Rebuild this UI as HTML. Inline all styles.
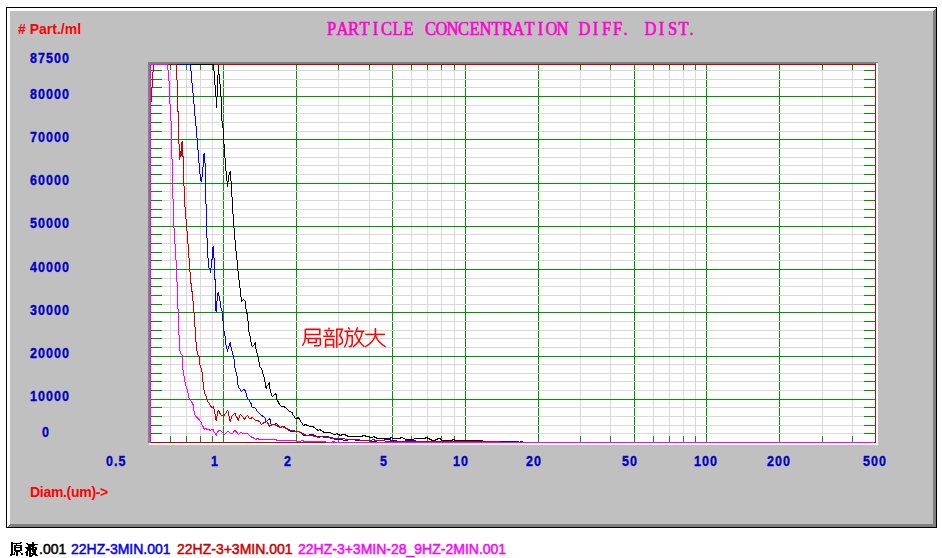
<!DOCTYPE html>
<html><head><meta charset="utf-8"><style>
html,body{margin:0;padding:0;background:#fff;}
body{width:942px;height:558px;position:relative;overflow:hidden;}
</style></head><body>
<svg width="942" height="558" viewBox="0 0 942 558" style="position:absolute;left:0;top:0">
<g shape-rendering="crispEdges">
<rect x="6" y="7" width="931" height="521" fill="#000"/>
<rect x="10" y="11" width="923" height="513" fill="#c0c0c0"/>
<rect x="7" y="8" width="929" height="1" fill="#fff"/>
<rect x="7" y="8" width="1" height="519" fill="#fff"/>
<rect x="935" y="9" width="1" height="518" fill="#808080"/>
<rect x="8" y="526" width="928" height="1" fill="#808080"/>
<rect x="7" y="9" width="928" height="1" fill="#fff"/>
<rect x="8" y="8" width="1" height="518" fill="#fff"/>
<rect x="934" y="10" width="1" height="517" fill="#808080"/>
<rect x="9" y="525" width="927" height="1" fill="#808080"/>
<rect x="7" y="10" width="927" height="1" fill="#fff"/>
<rect x="9" y="8" width="1" height="517" fill="#fff"/>
<rect x="933" y="11" width="1" height="516" fill="#808080"/>
<rect x="10" y="524" width="926" height="1" fill="#808080"/>
<rect x="148" y="62" width="730" height="1" fill="#808080"/>
<rect x="148" y="63" width="728" height="1" fill="#808080"/>
<rect x="148" y="64" width="2" height="379" fill="#808080"/>
<rect x="876" y="63" width="2" height="382" fill="#fff"/>
<rect x="149" y="443" width="729" height="2" fill="#fff"/>
<rect x="150" y="64" width="726" height="379" fill="#fff"/>
<rect x="223" y="65" width="1" height="377" fill="#009600"/>
<rect x="296" y="65" width="1" height="377" fill="#009600"/>
<rect x="392" y="65" width="1" height="377" fill="#009600"/>
<rect x="465" y="65" width="1" height="377" fill="#009600"/>
<rect x="538" y="65" width="1" height="377" fill="#009600"/>
<rect x="634" y="65" width="1" height="377" fill="#009600"/>
<rect x="706" y="65" width="1" height="377" fill="#009600"/>
<rect x="779" y="65" width="1" height="377" fill="#009600"/>
<rect x="170" y="65" width="1" height="377" fill="#d8d8d8"/>
<rect x="170" y="65" width="1" height="5" fill="#009600"/>
<rect x="170" y="436" width="1" height="6" fill="#009600"/>
<rect x="186" y="65" width="1" height="377" fill="#d8d8d8"/>
<rect x="186" y="65" width="1" height="5" fill="#009600"/>
<rect x="186" y="436" width="1" height="6" fill="#009600"/>
<rect x="200" y="65" width="1" height="377" fill="#d8d8d8"/>
<rect x="200" y="65" width="1" height="5" fill="#009600"/>
<rect x="200" y="436" width="1" height="6" fill="#009600"/>
<rect x="212" y="65" width="1" height="377" fill="#d8d8d8"/>
<rect x="212" y="65" width="1" height="5" fill="#009600"/>
<rect x="212" y="436" width="1" height="6" fill="#009600"/>
<rect x="338" y="65" width="1" height="377" fill="#d8d8d8"/>
<rect x="338" y="65" width="1" height="5" fill="#009600"/>
<rect x="338" y="436" width="1" height="6" fill="#009600"/>
<rect x="369" y="65" width="1" height="377" fill="#d8d8d8"/>
<rect x="369" y="65" width="1" height="5" fill="#009600"/>
<rect x="369" y="436" width="1" height="6" fill="#009600"/>
<rect x="411" y="65" width="1" height="377" fill="#d8d8d8"/>
<rect x="411" y="65" width="1" height="5" fill="#009600"/>
<rect x="411" y="436" width="1" height="6" fill="#009600"/>
<rect x="427" y="65" width="1" height="377" fill="#d8d8d8"/>
<rect x="427" y="65" width="1" height="5" fill="#009600"/>
<rect x="427" y="436" width="1" height="6" fill="#009600"/>
<rect x="441" y="65" width="1" height="377" fill="#d8d8d8"/>
<rect x="441" y="65" width="1" height="5" fill="#009600"/>
<rect x="441" y="436" width="1" height="6" fill="#009600"/>
<rect x="454" y="65" width="1" height="377" fill="#d8d8d8"/>
<rect x="454" y="65" width="1" height="5" fill="#009600"/>
<rect x="454" y="436" width="1" height="6" fill="#009600"/>
<rect x="580" y="65" width="1" height="377" fill="#d8d8d8"/>
<rect x="580" y="65" width="1" height="5" fill="#009600"/>
<rect x="580" y="436" width="1" height="6" fill="#009600"/>
<rect x="610" y="65" width="1" height="377" fill="#d8d8d8"/>
<rect x="610" y="65" width="1" height="5" fill="#009600"/>
<rect x="610" y="436" width="1" height="6" fill="#009600"/>
<rect x="653" y="65" width="1" height="377" fill="#d8d8d8"/>
<rect x="653" y="65" width="1" height="5" fill="#009600"/>
<rect x="653" y="436" width="1" height="6" fill="#009600"/>
<rect x="669" y="65" width="1" height="377" fill="#d8d8d8"/>
<rect x="669" y="65" width="1" height="5" fill="#009600"/>
<rect x="669" y="436" width="1" height="6" fill="#009600"/>
<rect x="683" y="65" width="1" height="377" fill="#d8d8d8"/>
<rect x="683" y="65" width="1" height="5" fill="#009600"/>
<rect x="683" y="436" width="1" height="6" fill="#009600"/>
<rect x="695" y="65" width="1" height="377" fill="#d8d8d8"/>
<rect x="695" y="65" width="1" height="5" fill="#009600"/>
<rect x="695" y="436" width="1" height="6" fill="#009600"/>
<rect x="822" y="65" width="1" height="377" fill="#d8d8d8"/>
<rect x="822" y="65" width="1" height="5" fill="#009600"/>
<rect x="822" y="436" width="1" height="6" fill="#009600"/>
<rect x="852" y="65" width="1" height="377" fill="#d8d8d8"/>
<rect x="852" y="65" width="1" height="5" fill="#009600"/>
<rect x="852" y="436" width="1" height="6" fill="#009600"/>
<rect x="151" y="433" width="724" height="1" fill="#d8d8d8"/>
<rect x="151" y="433" width="11" height="1" fill="#009600"/>
<rect x="864" y="433" width="11" height="1" fill="#009600"/>
<rect x="151" y="425" width="724" height="1" fill="#d8d8d8"/>
<rect x="151" y="425" width="11" height="1" fill="#009600"/>
<rect x="864" y="425" width="11" height="1" fill="#009600"/>
<rect x="151" y="416" width="724" height="1" fill="#d8d8d8"/>
<rect x="151" y="416" width="11" height="1" fill="#009600"/>
<rect x="864" y="416" width="11" height="1" fill="#009600"/>
<rect x="151" y="407" width="724" height="1" fill="#d8d8d8"/>
<rect x="151" y="407" width="11" height="1" fill="#009600"/>
<rect x="864" y="407" width="11" height="1" fill="#009600"/>
<rect x="151" y="390" width="724" height="1" fill="#d8d8d8"/>
<rect x="151" y="390" width="11" height="1" fill="#009600"/>
<rect x="864" y="390" width="11" height="1" fill="#009600"/>
<rect x="151" y="381" width="724" height="1" fill="#d8d8d8"/>
<rect x="151" y="381" width="11" height="1" fill="#009600"/>
<rect x="864" y="381" width="11" height="1" fill="#009600"/>
<rect x="151" y="373" width="724" height="1" fill="#d8d8d8"/>
<rect x="151" y="373" width="11" height="1" fill="#009600"/>
<rect x="864" y="373" width="11" height="1" fill="#009600"/>
<rect x="151" y="364" width="724" height="1" fill="#d8d8d8"/>
<rect x="151" y="364" width="11" height="1" fill="#009600"/>
<rect x="864" y="364" width="11" height="1" fill="#009600"/>
<rect x="151" y="347" width="724" height="1" fill="#d8d8d8"/>
<rect x="151" y="347" width="11" height="1" fill="#009600"/>
<rect x="864" y="347" width="11" height="1" fill="#009600"/>
<rect x="151" y="338" width="724" height="1" fill="#d8d8d8"/>
<rect x="151" y="338" width="11" height="1" fill="#009600"/>
<rect x="864" y="338" width="11" height="1" fill="#009600"/>
<rect x="151" y="330" width="724" height="1" fill="#d8d8d8"/>
<rect x="151" y="330" width="11" height="1" fill="#009600"/>
<rect x="864" y="330" width="11" height="1" fill="#009600"/>
<rect x="151" y="321" width="724" height="1" fill="#d8d8d8"/>
<rect x="151" y="321" width="11" height="1" fill="#009600"/>
<rect x="864" y="321" width="11" height="1" fill="#009600"/>
<rect x="151" y="304" width="724" height="1" fill="#d8d8d8"/>
<rect x="151" y="304" width="11" height="1" fill="#009600"/>
<rect x="864" y="304" width="11" height="1" fill="#009600"/>
<rect x="151" y="295" width="724" height="1" fill="#d8d8d8"/>
<rect x="151" y="295" width="11" height="1" fill="#009600"/>
<rect x="864" y="295" width="11" height="1" fill="#009600"/>
<rect x="151" y="286" width="724" height="1" fill="#d8d8d8"/>
<rect x="151" y="286" width="11" height="1" fill="#009600"/>
<rect x="864" y="286" width="11" height="1" fill="#009600"/>
<rect x="151" y="278" width="724" height="1" fill="#d8d8d8"/>
<rect x="151" y="278" width="11" height="1" fill="#009600"/>
<rect x="864" y="278" width="11" height="1" fill="#009600"/>
<rect x="151" y="260" width="724" height="1" fill="#d8d8d8"/>
<rect x="151" y="260" width="11" height="1" fill="#009600"/>
<rect x="864" y="260" width="11" height="1" fill="#009600"/>
<rect x="151" y="252" width="724" height="1" fill="#d8d8d8"/>
<rect x="151" y="252" width="11" height="1" fill="#009600"/>
<rect x="864" y="252" width="11" height="1" fill="#009600"/>
<rect x="151" y="243" width="724" height="1" fill="#d8d8d8"/>
<rect x="151" y="243" width="11" height="1" fill="#009600"/>
<rect x="864" y="243" width="11" height="1" fill="#009600"/>
<rect x="151" y="234" width="724" height="1" fill="#d8d8d8"/>
<rect x="151" y="234" width="11" height="1" fill="#009600"/>
<rect x="864" y="234" width="11" height="1" fill="#009600"/>
<rect x="151" y="217" width="724" height="1" fill="#d8d8d8"/>
<rect x="151" y="217" width="11" height="1" fill="#009600"/>
<rect x="864" y="217" width="11" height="1" fill="#009600"/>
<rect x="151" y="209" width="724" height="1" fill="#d8d8d8"/>
<rect x="151" y="209" width="11" height="1" fill="#009600"/>
<rect x="864" y="209" width="11" height="1" fill="#009600"/>
<rect x="151" y="200" width="724" height="1" fill="#d8d8d8"/>
<rect x="151" y="200" width="11" height="1" fill="#009600"/>
<rect x="864" y="200" width="11" height="1" fill="#009600"/>
<rect x="151" y="191" width="724" height="1" fill="#d8d8d8"/>
<rect x="151" y="191" width="11" height="1" fill="#009600"/>
<rect x="864" y="191" width="11" height="1" fill="#009600"/>
<rect x="151" y="174" width="724" height="1" fill="#d8d8d8"/>
<rect x="151" y="174" width="11" height="1" fill="#009600"/>
<rect x="864" y="174" width="11" height="1" fill="#009600"/>
<rect x="151" y="165" width="724" height="1" fill="#d8d8d8"/>
<rect x="151" y="165" width="11" height="1" fill="#009600"/>
<rect x="864" y="165" width="11" height="1" fill="#009600"/>
<rect x="151" y="157" width="724" height="1" fill="#d8d8d8"/>
<rect x="151" y="157" width="11" height="1" fill="#009600"/>
<rect x="864" y="157" width="11" height="1" fill="#009600"/>
<rect x="151" y="148" width="724" height="1" fill="#d8d8d8"/>
<rect x="151" y="148" width="11" height="1" fill="#009600"/>
<rect x="864" y="148" width="11" height="1" fill="#009600"/>
<rect x="151" y="131" width="724" height="1" fill="#d8d8d8"/>
<rect x="151" y="131" width="11" height="1" fill="#009600"/>
<rect x="864" y="131" width="11" height="1" fill="#009600"/>
<rect x="151" y="122" width="724" height="1" fill="#d8d8d8"/>
<rect x="151" y="122" width="11" height="1" fill="#009600"/>
<rect x="864" y="122" width="11" height="1" fill="#009600"/>
<rect x="151" y="113" width="724" height="1" fill="#d8d8d8"/>
<rect x="151" y="113" width="11" height="1" fill="#009600"/>
<rect x="864" y="113" width="11" height="1" fill="#009600"/>
<rect x="151" y="105" width="724" height="1" fill="#d8d8d8"/>
<rect x="151" y="105" width="11" height="1" fill="#009600"/>
<rect x="864" y="105" width="11" height="1" fill="#009600"/>
<rect x="151" y="87" width="724" height="1" fill="#d8d8d8"/>
<rect x="151" y="87" width="11" height="1" fill="#009600"/>
<rect x="864" y="87" width="11" height="1" fill="#009600"/>
<rect x="151" y="79" width="724" height="1" fill="#d8d8d8"/>
<rect x="151" y="79" width="11" height="1" fill="#009600"/>
<rect x="864" y="79" width="11" height="1" fill="#009600"/>
<rect x="151" y="70" width="724" height="1" fill="#d8d8d8"/>
<rect x="151" y="70" width="11" height="1" fill="#009600"/>
<rect x="864" y="70" width="11" height="1" fill="#009600"/>
<rect x="151" y="399" width="724" height="1" fill="#009600"/>
<rect x="151" y="356" width="724" height="1" fill="#009600"/>
<rect x="151" y="312" width="724" height="1" fill="#009600"/>
<rect x="151" y="269" width="724" height="1" fill="#009600"/>
<rect x="151" y="226" width="724" height="1" fill="#009600"/>
<rect x="151" y="183" width="724" height="1" fill="#009600"/>
<rect x="151" y="139" width="724" height="1" fill="#009600"/>
<rect x="151" y="96" width="724" height="1" fill="#009600"/>
<rect x="150" y="64" width="726" height="1" fill="#cc0000"/>
<rect x="150" y="442" width="726" height="1" fill="#cc0000"/>
<rect x="875" y="64" width="1" height="379" fill="#cc0000"/>
<rect x="150" y="64" width="1" height="379" fill="#ff00ff"/>
</g>
<g shape-rendering="crispEdges" stroke-linejoin="miter" stroke-linecap="square">
<polyline points="150.5,64.5 213.5,64.5 213.5,70.5 214.5,71.5 214.5,75.5 214.5,84.5 215.5,85.5 215.5,87.5 215.5,96.5 216.5,97.5 216.5,107.5 216.5,97.5 217.5,96.5 217.5,75.5 218.5,74.5 218.5,64.5 218.5,71.5 218.5,73.5 219.5,74.5 219.5,83.5 220.5,84.5 220.5,96.5 221.5,97.5 221.5,112.5 221.5,120.5 222.5,121.5 222.5,127.5 223.5,128.5 223.5,143.5 224.5,144.5 224.5,157.5 225.5,158.5 225.5,170.5 226.5,171.5 226.5,178.5 226.5,180.5 227.5,181.5 227.5,186.5 227.5,182.5 228.5,181.5 228.5,178.5 228.5,175.5 229.5,174.5 229.5,172.5 230.5,171.5 230.5,178.5 230.5,180.5 231.5,181.5 231.5,196.5 232.5,197.5 232.5,213.5 233.5,214.5 233.5,227.5 234.5,228.5 234.5,239.5 235.5,240.5 235.5,250.5 236.5,251.5 236.5,252.5 236.5,259.5 237.5,260.5 237.5,270.5 238.5,271.5 238.5,279.5 239.5,280.5 239.5,281.5 239.5,287.5 240.5,288.5 240.5,296.5 241.5,297.5 241.5,301.5 242.5,300.5 243.5,299.5 244.5,300.5 245.5,301.5 245.5,302.5 245.5,308.5 246.5,309.5 246.5,312.5 247.5,314.5 247.5,320.5 248.5,321.5 248.5,327.5 248.5,331.5 249.5,332.5 249.5,335.5 250.5,336.5 250.5,341.5 251.5,342.5 251.5,345.5 252.5,346.5 253.5,345.5 254.5,344.5 255.5,342.5 255.5,346.5 255.5,348.5 256.5,349.5 256.5,352.5 257.5,353.5 257.5,356.5 258.5,357.5 258.5,361.5 259.5,362.5 259.5,366.5 260.5,367.5 262.5,370.5 262.5,373.5 263.5,374.5 263.5,376.5 264.5,377.5 264.5,381.5 265.5,382.5 265.5,387.5 266.5,388.5 266.5,386.5 267.5,385.5 269.5,382.5 269.5,385.5 269.5,388.5 270.5,389.5 270.5,392.5 271.5,393.5 271.5,395.5 272.5,396.5 274.5,394.5 275.5,393.5 276.5,395.5 276.5,399.5 277.5,400.5 278.5,402.5 279.5,404.5 281.5,406.5 283.5,406.5 285.5,407.5 287.5,409.5 289.5,411.5 292.5,412.5 292.5,414.5 293.5,415.5 295.5,418.5 296.5,418.5 298.5,417.5 299.5,419.5 301.5,422.5 303.5,425.5 305.5,424.5 307.5,425.5 310.5,426.5 312.5,426.5 314.5,427.5 316.5,429.5 318.5,430.5 319.5,429.5 321.5,430.5 322.5,431.5 324.5,432.5 327.5,432.5 329.5,432.5 332.5,433.5 333.5,434.5 335.5,434.5 336.5,433.5 338.5,434.5 340.5,435.5 342.5,434.5 344.5,434.5 346.5,435.5 348.5,436.5 351.5,436.5 361.5,436.5 363.5,435.5 364.5,435.5 366.5,436.5 368.5,436.5 370.5,437.5 372.5,437.5 373.5,436.5 375.5,437.5 377.5,438.5 380.5,438.5 383.5,438.5 387.5,438.5 389.5,438.5 391.5,437.5 392.5,438.5 397.5,438.5 399.5,438.5 401.5,437.5 402.5,437.5 403.5,438.5 406.5,439.5 412.5,439.5 415.5,438.5 416.5,438.5 419.5,438.5 422.5,438.5 424.5,438.5 426.5,437.5 428.5,438.5 430.5,439.5 432.5,440.5 434.5,440.5 436.5,439.5 438.5,438.5 440.5,438.5 441.5,440.5 445.5,440.5 451.5,440.5 453.5,439.5 455.5,440.5 474.5,440.5 481.5,440.5 484.5,441.5 489.5,441.5 508.5,441.5 509.5,442.5 520.5,442.5 520.5,441.5 522.5,441.5 523.5,442.5 873.5,442.5" fill="none" stroke="#000" stroke-width="1"/>
<polyline points="150.5,64.5 190.5,64.5 190.5,70.5 191.5,71.5 191.5,82.5 192.5,83.5 192.5,92.5 193.5,93.5 193.5,94.5 193.5,103.5 194.5,104.5 194.5,105.5 194.5,115.5 195.5,116.5 195.5,121.5 195.5,125.5 196.5,126.5 196.5,137.5 197.5,138.5 197.5,139.5 197.5,149.5 198.5,150.5 198.5,151.5 198.5,162.5 199.5,163.5 199.5,164.5 199.5,173.5 200.5,174.5 200.5,180.5 201.5,181.5 201.5,177.5 202.5,176.5 202.5,167.5 203.5,166.5 203.5,158.5 203.5,154.5 204.5,153.5 204.5,162.5 205.5,163.5 205.5,170.5 205.5,203.5 206.5,204.5 206.5,233.5 206.5,237.5 207.5,238.5 207.5,257.5 208.5,258.5 208.5,267.5 209.5,268.5 210.5,269.5 210.5,272.5 210.5,268.5 211.5,267.5 211.5,260.5 212.5,258.5 212.5,252.5 212.5,247.5 213.5,246.5 213.5,257.5 214.5,258.5 214.5,278.5 215.5,280.5 215.5,300.5 215.5,310.5 216.5,311.5 216.5,305.5 216.5,301.5 217.5,300.5 217.5,296.5 217.5,293.5 218.5,292.5 218.5,295.5 219.5,296.5 219.5,300.5 220.5,301.5 220.5,303.5 220.5,307.5 221.5,308.5 221.5,310.5 222.5,311.5 222.5,314.5 222.5,320.5 223.5,321.5 223.5,330.5 224.5,331.5 224.5,335.5 225.5,336.5 225.5,338.5 225.5,344.5 226.5,345.5 226.5,348.5 227.5,349.5 227.5,351.5 227.5,349.5 228.5,348.5 228.5,346.5 229.5,345.5 229.5,343.5 230.5,342.5 230.5,343.5 230.5,346.5 231.5,347.5 231.5,350.5 232.5,351.5 232.5,354.5 233.5,355.5 233.5,358.5 234.5,359.5 234.5,364.5 234.5,367.5 235.5,368.5 235.5,371.5 236.5,372.5 236.5,375.5 237.5,376.5 237.5,381.5 237.5,384.5 238.5,385.5 238.5,387.5 239.5,388.5 241.5,391.5 242.5,390.5 243.5,389.5 245.5,390.5 245.5,392.5 246.5,393.5 246.5,396.5 248.5,399.5 250.5,402.5 251.5,404.5 251.5,406.5 252.5,407.5 254.5,407.5 255.5,408.5 257.5,411.5 259.5,413.5 261.5,415.5 263.5,416.5 265.5,418.5 265.5,420.5 266.5,421.5 268.5,419.5 269.5,418.5 270.5,420.5 270.5,423.5 271.5,424.5 274.5,424.5 276.5,423.5 277.5,424.5 279.5,426.5 280.5,427.5 281.5,426.5 283.5,426.5 285.5,427.5 286.5,428.5 288.5,430.5 291.5,431.5 293.5,431.5 295.5,431.5 296.5,431.5 298.5,431.5 300.5,432.5 302.5,434.5 303.5,435.5 305.5,435.5 307.5,435.5 310.5,434.5 312.5,434.5 314.5,435.5 316.5,436.5 322.5,436.5 324.5,436.5 327.5,436.5 329.5,437.5 331.5,438.5 333.5,438.5 335.5,439.5 337.5,439.5 340.5,439.5 345.5,440.5 350.5,439.5 358.5,440.5 365.5,440.5 373.5,441.5 380.5,440.5 388.5,439.5 392.5,440.5 400.5,441.5 410.5,440.5 420.5,441.5 430.5,441.5 436.5,441.5 470.5,441.5 490.5,441.5 518.5,441.5 519.5,442.5 873.5,442.5" fill="none" stroke="#0000ff" stroke-width="1"/>
<polyline points="151.5,101.5 151.5,88.5 152.5,87.5 152.5,72.5 153.5,71.5 153.5,64.5 176.5,64.5 176.5,79.5 177.5,80.5 177.5,110.5 178.5,112.5 178.5,143.5 179.5,144.5 179.5,159.5 179.5,157.5 180.5,156.5 180.5,150.5 180.5,154.5 181.5,155.5 181.5,144.5 181.5,142.5 182.5,141.5 182.5,156.5 183.5,156.5 183.5,185.5 184.5,186.5 184.5,206.5 185.5,207.5 185.5,218.5 186.5,219.5 186.5,230.5 187.5,231.5 187.5,243.5 188.5,244.5 188.5,257.5 189.5,258.5 189.5,271.5 190.5,272.5 190.5,282.5 191.5,284.5 191.5,290.5 192.5,292.5 192.5,300.5 193.5,301.5 193.5,312.5 194.5,313.5 194.5,326.5 195.5,327.5 195.5,341.5 196.5,342.5 196.5,347.5 196.5,350.5 197.5,351.5 197.5,354.5 198.5,355.5 199.5,357.5 199.5,361.5 199.5,364.5 200.5,365.5 200.5,367.5 201.5,368.5 201.5,371.5 202.5,372.5 202.5,376.5 202.5,381.5 203.5,382.5 203.5,386.5 203.5,389.5 204.5,390.5 204.5,393.5 206.5,396.5 206.5,398.5 207.5,399.5 207.5,401.5 208.5,402.5 210.5,405.5 211.5,407.5 212.5,407.5 213.5,406.5 213.5,408.5 214.5,409.5 214.5,413.5 215.5,414.5 215.5,419.5 216.5,420.5 216.5,416.5 217.5,415.5 217.5,411.5 218.5,410.5 219.5,412.5 220.5,414.5 221.5,415.5 222.5,415.5 223.5,416.5 225.5,413.5 227.5,410.5 228.5,411.5 228.5,415.5 229.5,416.5 229.5,420.5 230.5,421.5 230.5,419.5 231.5,418.5 231.5,416.5 232.5,415.5 234.5,413.5 235.5,413.5 235.5,415.5 236.5,416.5 237.5,418.5 238.5,420.5 238.5,418.5 239.5,417.5 239.5,415.5 240.5,414.5 241.5,415.5 242.5,416.5 244.5,419.5 245.5,417.5 247.5,415.5 249.5,418.5 250.5,418.5 252.5,417.5 253.5,418.5 255.5,420.5 257.5,420.5 259.5,421.5 261.5,424.5 262.5,423.5 264.5,422.5 266.5,421.5 267.5,422.5 269.5,426.5 270.5,425.5 272.5,424.5 274.5,424.5 276.5,425.5 278.5,426.5 280.5,427.5 282.5,426.5 284.5,427.5 286.5,428.5 288.5,429.5 291.5,430.5 293.5,430.5 295.5,431.5 297.5,431.5 298.5,431.5 300.5,432.5 302.5,433.5 304.5,434.5 307.5,435.5 310.5,435.5 312.5,435.5 314.5,436.5 316.5,436.5 318.5,437.5 321.5,436.5 324.5,437.5 328.5,437.5 331.5,437.5 333.5,438.5 336.5,438.5 339.5,438.5 342.5,438.5 344.5,438.5 345.5,439.5 353.5,439.5 357.5,439.5 361.5,440.5 362.5,440.5 370.5,440.5 373.5,439.5 375.5,440.5 376.5,440.5 380.5,440.5 389.5,441.5 423.5,441.5 498.5,441.5 500.5,442.5 873.5,442.5" fill="none" stroke="#cc0000" stroke-width="1"/>
<polyline points="150.5,442.5 150.5,64.5 167.5,64.5 167.5,69.5 168.5,70.5 168.5,80.5 169.5,81.5 169.5,91.5 169.5,103.5 170.5,104.5 170.5,117.5 170.5,120.5 171.5,121.5 171.5,158.5 172.5,159.5 172.5,198.5 173.5,199.5 173.5,227.5 174.5,228.5 174.5,243.5 175.5,244.5 175.5,259.5 176.5,260.5 176.5,281.5 177.5,282.5 177.5,308.5 178.5,309.5 178.5,334.5 179.5,335.5 179.5,347.5 179.5,350.5 180.5,351.5 180.5,353.5 181.5,354.5 182.5,355.5 182.5,361.5 182.5,369.5 183.5,370.5 183.5,375.5 184.5,376.5 184.5,381.5 185.5,382.5 185.5,385.5 186.5,386.5 186.5,388.5 187.5,389.5 187.5,392.5 188.5,393.5 188.5,397.5 189.5,398.5 191.5,401.5 193.5,405.5 193.5,410.5 194.5,411.5 194.5,414.5 195.5,415.5 196.5,417.5 198.5,418.5 199.5,420.5 201.5,422.5 201.5,424.5 202.5,425.5 203.5,427.5 204.5,429.5 205.5,428.5 207.5,429.5 208.5,429.5 210.5,430.5 211.5,429.5 213.5,429.5 213.5,431.5 214.5,432.5 216.5,435.5 216.5,433.5 217.5,432.5 218.5,430.5 220.5,430.5 221.5,431.5 223.5,433.5 224.5,434.5 225.5,433.5 227.5,431.5 228.5,431.5 229.5,432.5 230.5,433.5 232.5,433.5 233.5,432.5 234.5,430.5 236.5,431.5 237.5,433.5 238.5,434.5 239.5,433.5 240.5,432.5 243.5,433.5 245.5,433.5 247.5,433.5 249.5,435.5 250.5,436.5 252.5,437.5 254.5,438.5 255.5,439.5 257.5,438.5 259.5,439.5 261.5,439.5 270.5,439.5 274.5,439.5 278.5,440.5 295.5,440.5 296.5,441.5 299.5,441.5 302.5,440.5 304.5,441.5 307.5,441.5 316.5,441.5 320.5,441.5 331.5,442.5 333.5,441.5 335.5,442.5 873.5,442.5" fill="none" stroke="#ff00ff" stroke-width="1"/>
</g>
<g fill="none" stroke="#ff0000" stroke-width="1.5" stroke-linecap="butt" stroke-linejoin="miter"><path d="M305.3,329.3 H319.8 V334.4 H305.8"/><path d="M305.3,329.3 V338.5 Q305,342 302.4,345.8"/><path d="M305.8,338.5 H320.3 V344.5 Q320.3,345.8 318.5,345.8 H314"/><path d="M308.4,338.5 V343.4 M308.4,342.6 H316.2 V338.5"/><path d="M328.5,327.6 L329.4,329.3"/><path d="M324.2,330.5 H334.3"/><path d="M326,331.8 L327.7,335.6 M332,331.8 L330.2,335.6"/><path d="M323.2,336.3 H334.8"/><path d="M325.6,339.5 V347.7 M325.6,339.5 H333.6 V347.7 M325.6,344.9 H333.6"/><path d="M336.8,347.7 V329.3 H342.4 L339.7,335.6 Q343.2,338.8 342.3,342.6 Q341.6,344.4 338.4,344.4"/><path d="M348.2,327.3 L349.7,329.5"/><path d="M344.4,331.3 H353.6"/><path d="M347.4,331.3 V338.5 Q347,343.5 344.4,347.4"/><path d="M347.4,335.7 H352.2 V343.4 Q352,346.4 350,346.4 H348.6"/><path d="M357.6,327.3 L354.5,335.2"/><path d="M356,331.3 H364.4"/><path d="M362.3,331.3 Q361,341 353.1,346.8"/><path d="M356,334.4 Q358.5,342.5 364.5,346.8"/><path d="M365.2,334.4 H385.1"/><path d="M375.4,328 V335.6 Q373,342.8 365.2,346.8"/><path d="M375.4,335.6 Q378,342.8 385.6,346.8"/></g>
<g shape-rendering="crispEdges"><rect x="11" y="542" width="2" height="1" fill="#000"/><rect x="20" y="542" width="2" height="1" fill="#000"/><rect x="11" y="543" width="10" height="1" fill="#000"/><rect x="11" y="544" width="2" height="1" fill="#000"/><rect x="16" y="544" width="1" height="1" fill="#000"/><rect x="11" y="545" width="2" height="1" fill="#000"/><rect x="14" y="545" width="8" height="1" fill="#000"/><rect x="11" y="546" width="2" height="1" fill="#000"/><rect x="14" y="546" width="2" height="1" fill="#000"/><rect x="20" y="546" width="2" height="1" fill="#000"/><rect x="11" y="547" width="2" height="1" fill="#000"/><rect x="14" y="547" width="8" height="1" fill="#000"/><rect x="11" y="548" width="2" height="1" fill="#000"/><rect x="14" y="548" width="2" height="1" fill="#000"/><rect x="20" y="548" width="2" height="1" fill="#000"/><rect x="11" y="549" width="2" height="1" fill="#000"/><rect x="14" y="549" width="2" height="1" fill="#000"/><rect x="20" y="549" width="2" height="1" fill="#000"/><rect x="11" y="550" width="2" height="1" fill="#000"/><rect x="14" y="550" width="8" height="1" fill="#000"/><rect x="11" y="551" width="2" height="1" fill="#000"/><rect x="15" y="551" width="5" height="1" fill="#000"/><rect x="11" y="552" width="2" height="1" fill="#000"/><rect x="14" y="552" width="1" height="1" fill="#000"/><rect x="16" y="552" width="2" height="1" fill="#000"/><rect x="20" y="552" width="1" height="1" fill="#000"/><rect x="11" y="553" width="2" height="1" fill="#000"/><rect x="14" y="553" width="1" height="1" fill="#000"/><rect x="16" y="553" width="2" height="1" fill="#000"/><rect x="21" y="553" width="2" height="1" fill="#000"/><rect x="10" y="554" width="5" height="1" fill="#000"/><rect x="16" y="554" width="2" height="1" fill="#000"/><rect x="21" y="554" width="2" height="1" fill="#000"/><rect x="10" y="555" width="2" height="1" fill="#000"/><rect x="16" y="555" width="2" height="1" fill="#000"/><rect x="32" y="542" width="2" height="1" fill="#000"/><rect x="26" y="543" width="2" height="1" fill="#000"/><rect x="32" y="543" width="2" height="1" fill="#000"/><rect x="27" y="544" width="11" height="1" fill="#000"/><rect x="28" y="545" width="7" height="1" fill="#000"/><rect x="28" y="546" width="6" height="1" fill="#000"/><rect x="25" y="547" width="6" height="1" fill="#000"/><rect x="32" y="547" width="5" height="1" fill="#000"/><rect x="26" y="548" width="8" height="1" fill="#000"/><rect x="35" y="548" width="2" height="1" fill="#000"/><rect x="27" y="549" width="10" height="1" fill="#000"/><rect x="27" y="550" width="4" height="1" fill="#000"/><rect x="32" y="550" width="4" height="1" fill="#000"/><rect x="26" y="551" width="2" height="1" fill="#000"/><rect x="29" y="551" width="2" height="1" fill="#000"/><rect x="32" y="551" width="4" height="1" fill="#000"/><rect x="25" y="552" width="3" height="1" fill="#000"/><rect x="29" y="552" width="2" height="1" fill="#000"/><rect x="33" y="552" width="3" height="1" fill="#000"/><rect x="26" y="553" width="2" height="1" fill="#000"/><rect x="29" y="553" width="7" height="1" fill="#000"/><rect x="26" y="554" width="2" height="1" fill="#000"/><rect x="29" y="554" width="2" height="1" fill="#000"/><rect x="32" y="554" width="5" height="1" fill="#000"/><rect x="26" y="555" width="2" height="1" fill="#000"/><rect x="29" y="555" width="4" height="1" fill="#000"/><rect x="35" y="555" width="3" height="1" fill="#000"/><rect x="29" y="556" width="3" height="1" fill="#000"/></g>
</svg>
<div style="position:absolute;left:30px;top:51px;color:#0000c8;font:bold 14.2px/1 'Liberation Sans', sans-serif;white-space:pre;transform:scaleX(0.88);transform-origin:0 0;letter-spacing:1.19px;-webkit-text-stroke:0.35px;">87500</div>
<div style="position:absolute;left:30px;top:87px;color:#0000c8;font:bold 14.2px/1 'Liberation Sans', sans-serif;white-space:pre;transform:scaleX(0.88);transform-origin:0 0;letter-spacing:1.19px;-webkit-text-stroke:0.35px;">80000</div>
<div style="position:absolute;left:30px;top:130px;color:#0000c8;font:bold 14.2px/1 'Liberation Sans', sans-serif;white-space:pre;transform:scaleX(0.88);transform-origin:0 0;letter-spacing:1.19px;-webkit-text-stroke:0.35px;">70000</div>
<div style="position:absolute;left:30px;top:173px;color:#0000c8;font:bold 14.2px/1 'Liberation Sans', sans-serif;white-space:pre;transform:scaleX(0.88);transform-origin:0 0;letter-spacing:1.19px;-webkit-text-stroke:0.35px;">60000</div>
<div style="position:absolute;left:30px;top:216px;color:#0000c8;font:bold 14.2px/1 'Liberation Sans', sans-serif;white-space:pre;transform:scaleX(0.88);transform-origin:0 0;letter-spacing:1.19px;-webkit-text-stroke:0.35px;">50000</div>
<div style="position:absolute;left:30px;top:260px;color:#0000c8;font:bold 14.2px/1 'Liberation Sans', sans-serif;white-space:pre;transform:scaleX(0.88);transform-origin:0 0;letter-spacing:1.19px;-webkit-text-stroke:0.35px;">40000</div>
<div style="position:absolute;left:30px;top:303px;color:#0000c8;font:bold 14.2px/1 'Liberation Sans', sans-serif;white-space:pre;transform:scaleX(0.88);transform-origin:0 0;letter-spacing:1.19px;-webkit-text-stroke:0.35px;">30000</div>
<div style="position:absolute;left:30px;top:346px;color:#0000c8;font:bold 14.2px/1 'Liberation Sans', sans-serif;white-space:pre;transform:scaleX(0.88);transform-origin:0 0;letter-spacing:1.19px;-webkit-text-stroke:0.35px;">20000</div>
<div style="position:absolute;left:30px;top:389px;color:#0000c8;font:bold 14.2px/1 'Liberation Sans', sans-serif;white-space:pre;transform:scaleX(0.88);transform-origin:0 0;letter-spacing:1.19px;-webkit-text-stroke:0.35px;">10000</div>
<div style="position:absolute;left:42px;top:425px;color:#0000c8;font:bold 14.2px/1 'Liberation Sans', sans-serif;white-space:pre;transform:scaleX(0.88);transform-origin:0 0;letter-spacing:1.19px;-webkit-text-stroke:0.35px;">0</div>
<div style="position:absolute;left:106px;top:454px;color:#0000c8;font:bold 14.2px/1 'Liberation Sans', sans-serif;white-space:pre;transform:scaleX(0.88);transform-origin:0 0;letter-spacing:1.19px;-webkit-text-stroke:0.35px;">0.5</div>
<div style="position:absolute;left:211px;top:454px;color:#0000c8;font:bold 14.2px/1 'Liberation Sans', sans-serif;white-space:pre;transform:scaleX(0.88);transform-origin:0 0;letter-spacing:1.19px;-webkit-text-stroke:0.35px;">1</div>
<div style="position:absolute;left:284px;top:454px;color:#0000c8;font:bold 14.2px/1 'Liberation Sans', sans-serif;white-space:pre;transform:scaleX(0.88);transform-origin:0 0;letter-spacing:1.19px;-webkit-text-stroke:0.35px;">2</div>
<div style="position:absolute;left:380px;top:454px;color:#0000c8;font:bold 14.2px/1 'Liberation Sans', sans-serif;white-space:pre;transform:scaleX(0.88);transform-origin:0 0;letter-spacing:1.19px;-webkit-text-stroke:0.35px;">5</div>
<div style="position:absolute;left:453px;top:454px;color:#0000c8;font:bold 14.2px/1 'Liberation Sans', sans-serif;white-space:pre;transform:scaleX(0.88);transform-origin:0 0;letter-spacing:1.19px;-webkit-text-stroke:0.35px;">10</div>
<div style="position:absolute;left:526px;top:454px;color:#0000c8;font:bold 14.2px/1 'Liberation Sans', sans-serif;white-space:pre;transform:scaleX(0.88);transform-origin:0 0;letter-spacing:1.19px;-webkit-text-stroke:0.35px;">20</div>
<div style="position:absolute;left:622px;top:454px;color:#0000c8;font:bold 14.2px/1 'Liberation Sans', sans-serif;white-space:pre;transform:scaleX(0.88);transform-origin:0 0;letter-spacing:1.19px;-webkit-text-stroke:0.35px;">50</div>
<div style="position:absolute;left:694px;top:454px;color:#0000c8;font:bold 14.2px/1 'Liberation Sans', sans-serif;white-space:pre;transform:scaleX(0.88);transform-origin:0 0;letter-spacing:1.19px;-webkit-text-stroke:0.35px;">100</div>
<div style="position:absolute;left:767px;top:454px;color:#0000c8;font:bold 14.2px/1 'Liberation Sans', sans-serif;white-space:pre;transform:scaleX(0.88);transform-origin:0 0;letter-spacing:1.19px;-webkit-text-stroke:0.35px;">200</div>
<div style="position:absolute;left:863px;top:454px;color:#0000c8;font:bold 14.2px/1 'Liberation Sans', sans-serif;white-space:pre;transform:scaleX(0.88);transform-origin:0 0;letter-spacing:1.19px;-webkit-text-stroke:0.35px;">500</div>
<div style="position:absolute;left:18px;top:22px;color:#ff0000;font:bold 14px/1 'Liberation Sans', sans-serif;white-space:pre;"># Part./ml</div>
<div style="position:absolute;left:30px;top:485px;color:#ff0000;font:bold 14px/1 'Liberation Sans', sans-serif;white-space:pre;letter-spacing:-0.3px;">Diam.(um)-&gt;</div>
<div style="position:absolute;left:0;top:20px;color:#ff00d2;font:18px/1 'Liberation Serif', serif;-webkit-text-stroke:0.6px #ff00d2;"><span style="position:absolute;left:322px;top:0;width:19px;text-align:center;transform:scaleX(0.92)">P</span><span style="position:absolute;left:333px;top:0;width:19px;text-align:center;transform:scaleX(0.92)">A</span><span style="position:absolute;left:344px;top:0;width:19px;text-align:center;transform:scaleX(0.92)">R</span><span style="position:absolute;left:355px;top:0;width:19px;text-align:center;transform:scaleX(0.92)">T</span><span style="position:absolute;left:366px;top:0;width:19px;text-align:center;transform:scaleX(0.92)">I</span><span style="position:absolute;left:377px;top:0;width:19px;text-align:center;transform:scaleX(0.92)">C</span><span style="position:absolute;left:388px;top:0;width:19px;text-align:center;transform:scaleX(0.92)">L</span><span style="position:absolute;left:399px;top:0;width:19px;text-align:center;transform:scaleX(0.92)">E</span><span style="position:absolute;left:421px;top:0;width:19px;text-align:center;transform:scaleX(0.92)">C</span><span style="position:absolute;left:432px;top:0;width:19px;text-align:center;transform:scaleX(0.92)">O</span><span style="position:absolute;left:443px;top:0;width:19px;text-align:center;transform:scaleX(0.92)">N</span><span style="position:absolute;left:454px;top:0;width:19px;text-align:center;transform:scaleX(0.92)">C</span><span style="position:absolute;left:465px;top:0;width:19px;text-align:center;transform:scaleX(0.92)">E</span><span style="position:absolute;left:476px;top:0;width:19px;text-align:center;transform:scaleX(0.92)">N</span><span style="position:absolute;left:487px;top:0;width:19px;text-align:center;transform:scaleX(0.92)">T</span><span style="position:absolute;left:498px;top:0;width:19px;text-align:center;transform:scaleX(0.92)">R</span><span style="position:absolute;left:509px;top:0;width:19px;text-align:center;transform:scaleX(0.92)">A</span><span style="position:absolute;left:520px;top:0;width:19px;text-align:center;transform:scaleX(0.92)">T</span><span style="position:absolute;left:531px;top:0;width:19px;text-align:center;transform:scaleX(0.92)">I</span><span style="position:absolute;left:542px;top:0;width:19px;text-align:center;transform:scaleX(0.92)">O</span><span style="position:absolute;left:553px;top:0;width:19px;text-align:center;transform:scaleX(0.92)">N</span><span style="position:absolute;left:575px;top:0;width:19px;text-align:center;transform:scaleX(0.92)">D</span><span style="position:absolute;left:586px;top:0;width:19px;text-align:center;transform:scaleX(0.92)">I</span><span style="position:absolute;left:597px;top:0;width:19px;text-align:center;transform:scaleX(0.92)">F</span><span style="position:absolute;left:608px;top:0;width:19px;text-align:center;transform:scaleX(0.92)">F</span><span style="position:absolute;left:616px;top:0;width:19px;text-align:center;transform:scaleX(0.92)">.</span><span style="position:absolute;left:641px;top:0;width:19px;text-align:center;transform:scaleX(0.92)">D</span><span style="position:absolute;left:652px;top:0;width:19px;text-align:center;transform:scaleX(0.92)">I</span><span style="position:absolute;left:663px;top:0;width:19px;text-align:center;transform:scaleX(0.92)">S</span><span style="position:absolute;left:674px;top:0;width:19px;text-align:center;transform:scaleX(0.92)">T</span><span style="position:absolute;left:682px;top:0;width:19px;text-align:center;transform:scaleX(0.92)">.</span></div>
<div style="position:absolute;left:39px;top:542px;color:#000;font:normal 14px/1 'Liberation Sans', sans-serif;white-space:pre;letter-spacing:0px;-webkit-text-stroke:0.5px;">.001</div>
<div style="position:absolute;left:71px;top:542px;color:#0000ff;font:normal 14px/1 'Liberation Sans', sans-serif;white-space:pre;letter-spacing:0px;-webkit-text-stroke:0.5px;">22HZ-3MIN.001</div>
<div style="position:absolute;left:177px;top:542px;color:#cc0000;font:normal 14px/1 'Liberation Sans', sans-serif;white-space:pre;letter-spacing:0px;-webkit-text-stroke:0.5px;">22HZ-3+3MIN.001</div>
<div style="position:absolute;left:298px;top:542px;color:#ff00ff;font:normal 14px/1 'Liberation Sans', sans-serif;white-space:pre;letter-spacing:0px;-webkit-text-stroke:0.5px;">22HZ-3+3MIN-28_9HZ-2MIN.001</div>
</body></html>
